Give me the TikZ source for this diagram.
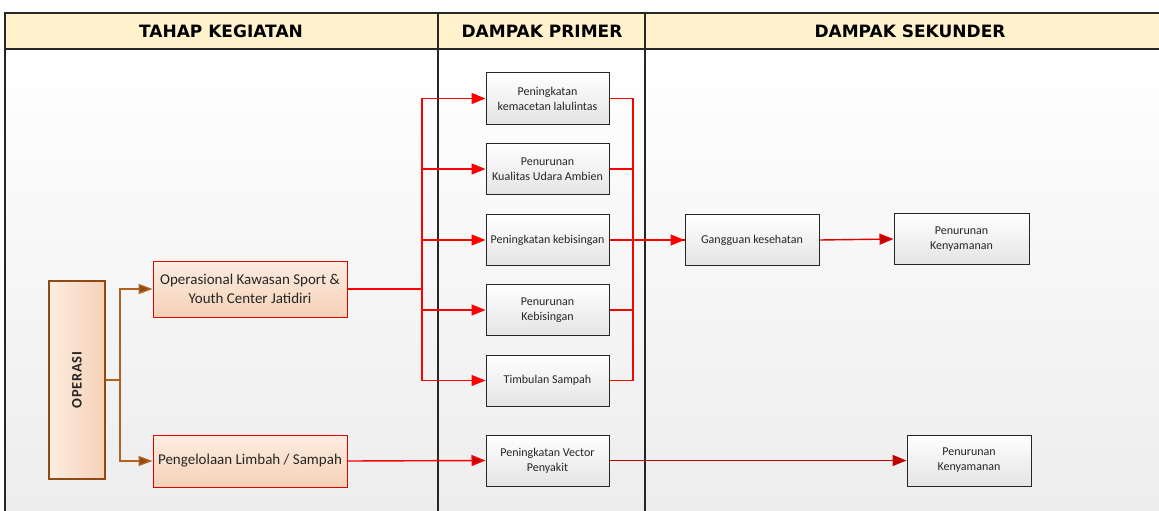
\documentclass[tikz,border=0pt]{standalone}
\usepackage{fontspec}
\setmainfont{Carlito}
\newfontfamily\headfont{DejaVu Sans}
\newfontfamily\spacedbold[LetterSpace=5]{Carlito}
\usetikzlibrary{arrows.meta,calc}
\definecolor{hdr}{HTML}{FFF2CC}
\definecolor{rd}{HTML}{FF0000}
\definecolor{bdr}{HTML}{E00000}
\definecolor{drd}{HTML}{C00000}
\definecolor{brn}{HTML}{B3611E}
\definecolor{brnd}{HTML}{8E4A14}
\definecolor{pch1}{HTML}{FCEDE2}
\definecolor{pch2}{HTML}{F6D1B6}
\definecolor{gry}{HTML}{E4E4E4}
\definecolor{bgb}{HTML}{EDEDED}
\definecolor{txt}{HTML}{262626}
\tikzset{
  gbox/.style={draw=black!85, line width=1pt, top color=white, bottom color=gry,
    minimum width=123pt, minimum height=51pt, align=center, inner sep=0pt,
    text=txt, font=\fontsize{12}{15}\selectfont},
  pbox/.style={draw=bdr, line width=1pt, top color=pch1, bottom color=pch2,
    minimum width=194pt, align=center, inner sep=0pt,
    text=txt, font=\fontsize{15}{19}\selectfont},
  hdrtext/.style={font=\headfont\bfseries\fontsize{17}{20}\selectfont},
  rline/.style={draw=rd, line width=1.4pt},
  rarr/.style={rline, -{Triangle[length=14pt,width=11pt]}},
  darr/.style={draw=bdr, line width=1.4pt, -{Triangle[length=14pt,width=11pt,fill=drd]}},
  bline/.style={draw=brn, line width=1.4pt},
  barr/.style={bline, -{Triangle[length=14pt,width=10pt,fill=brnd]}},
  tline/.style={draw=black!85, line width=1.4pt},
}
\begin{document}
\begin{tikzpicture}[x=1pt,y=-1pt]
\useasboundingbox (0,0) rectangle (1159,511);
% body background
\fill[top color=white, bottom color=bgb] (5,49) rectangle (1159,511);
% header
\fill[hdr] (5,13) rectangle (1159,49);
\draw[tline] (1159,13) -- (5,13) -- (5,511);
\draw[tline] (5,49) -- (1159,49);
\draw[tline] (438,13) -- (438,511);
\draw[tline] (645,13) -- (645,511);
\node[hdrtext] (h1) at (221,31) {TAHAP KEGIATAN};
\node[hdrtext] (h2) at (542,31) {DAMPAK PRIMER};
\node[hdrtext] (h3) at (910,31) {DAMPAK SEKUNDER};

% OPERASI
\node[draw=brnd, line width=1.4pt, left color=pch1, right color=pch2,
  minimum width=56pt, minimum height=198pt, inner sep=0pt] (op) at (77,380) {};
\node[rotate=90, text=txt, font=\spacedbold\bfseries\fontsize{14.5}{16}\selectfont] (optext) at (op.center) {OPERASI};

% kegiatan boxes
\node[pbox, minimum height=56pt] (k1) at (250,289) {Operasional Kawasan Sport \&\\Youth Center Jatidiri};
\node[pbox, minimum height=52pt] (k2) at (250,461) {Pengelolaan Limbah / Sampah};

% primary impact boxes
\node[gbox] (m1) at (547.5,98.5) {Peningkatan\\kemacetan lalulintas};
\node[gbox] (m2) at (547.5,169) {Penurunan\\Kualitas Udara Ambien};
\node[gbox] (m3) at (547.5,240) {Peningkatan kebisingan};
\node[gbox] (m4) at (547.5,310) {Penurunan\\Kebisingan};
\node[gbox] (m5) at (547.5,380.5) {Timbulan Sampah};
\node[gbox] (m6) at (547.5,460.5) {Peningkatan Vector\\Penyakit};

% secondary impact boxes
\node[gbox, minimum width=134pt] (gg) at (752,240) {Gangguan kesehatan};
\node[gbox, minimum width=135pt] (s1) at (961.5,239) {Penurunan\\Kenyamanan};
\node[gbox, minimum width=124pt] (s2) at (969,460.5) {Penurunan\\Kenyamanan};

% brown connectors
\coordinate (bj) at (120,380);
\draw[bline] (op.east) -- (bj);
\draw[barr] (bj) |- (k1.west);
\draw[barr] (bj) |- (k2.west);

% red bus left
\coordinate (bL) at (422,0);
\foreach \m in {m1,m2,m3,m4,m5}{
  \draw[rarr] (k1.east) -- (k1.east -| bL) |- (\m.west);
}
% red bus right
\coordinate (bR) at (633,0);
\foreach \m in {m1,m2,m4,m5}{
  \draw[rline] (\m.east) -- (\m.east -| bR) |- (gg.west);
}
\draw[rarr] (m3.east) -- (gg.west);
\draw[darr] (gg.east) -- (s1.west);

% bottom row
\draw[draw=rd, line width=1.4pt, -{Triangle[length=14pt,width=11pt,fill=drd]}] (k2.east) -- (m6.west);
\draw[darr, draw=drd] (m6.east) -- (s2.west);
\end{tikzpicture}
\end{document}
